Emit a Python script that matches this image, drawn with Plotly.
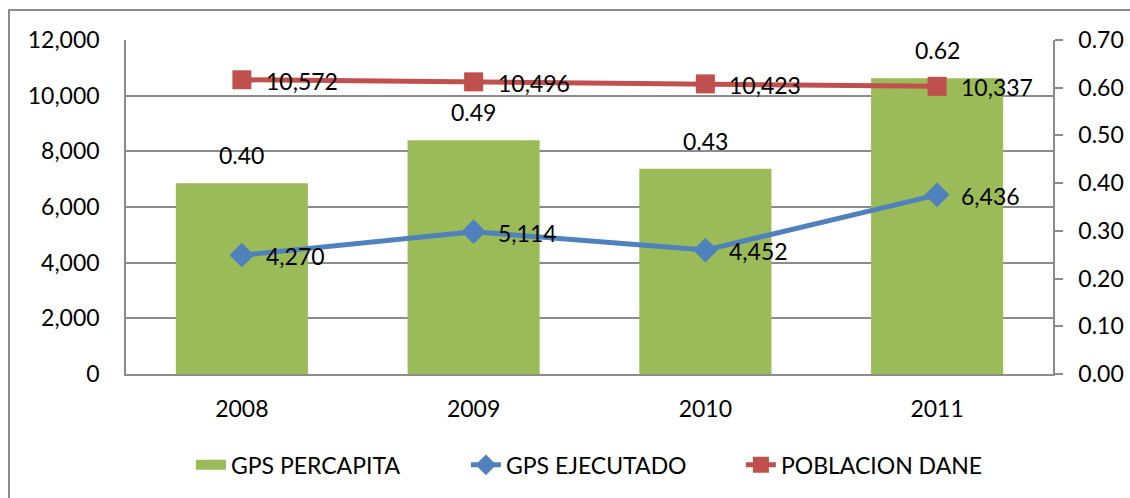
import plotly.graph_objects as go

years = ["2008", "2009", "2010", "2011"]
gps_percapita = [0.40, 0.49, 0.43, 0.62]
gps_ejecutado = [4270, 5114, 4452, 6436]
poblacion_dane = [10572, 10496, 10423, 10337]

GREEN = "#9BBB59"
BLUE = "#4F81BD"
RED = "#C0504D"
GRAY = "#8C8C8C"
FONT = "Lato"

xpos = list(range(len(years)))

fig = go.Figure()

# bars on the right-hand axis (drawn first so lines sit on top)
fig.add_trace(go.Bar(
    x=xpos, y=gps_percapita, name="GPS PERCAPITA",
    marker=dict(color=GREEN, line=dict(width=0)),
    yaxis="y", hoverinfo="skip", showlegend=False,
))
# legend swatch for the bars: a wide block like the bar fill
fig.add_trace(go.Scatter(
    x=[None], y=[None], name="GPS PERCAPITA", mode="lines",
    line=dict(color=GREEN, width=15), yaxis="y",
))

fig.add_trace(go.Scatter(
    x=xpos, y=gps_ejecutado, name="GPS EJECUTADO",
    mode="lines+markers",
    line=dict(color=BLUE, width=5),
    marker=dict(symbol="diamond", size=19, color=BLUE),
    yaxis="y2",
))

fig.add_trace(go.Scatter(
    x=xpos, y=poblacion_dane, name="POBLACION DANE",
    mode="lines+markers",
    line=dict(color=RED, width=5),
    marker=dict(symbol="square", size=19, color=RED),
    yaxis="y2",
))

annotations = []
# value labels above the bars
for i, v in zip(xpos, gps_percapita):
    annotations.append(dict(
        x=i, y=v, xref="x", yref="y", text=f"{v:.2f}", showarrow=False,
        yshift=28, font=dict(family=FONT, size=23, color="#000000")))
# value labels to the right of the line points
for series in (gps_ejecutado, poblacion_dane):
    for i, v in zip(xpos, series):
        annotations.append(dict(
            x=i, y=v, xref="x", yref="y2", text=f"{v:,}", showarrow=False,
            xanchor="left", xshift=22, yshift=-1,
            font=dict(family=FONT, size=23, color="#000000")))

fig.update_layout(
    width=1130, height=498,
    margin=dict(l=126, r=77, t=40, b=124, autoexpand=False),
    paper_bgcolor="white", plot_bgcolor="white",
    font=dict(family=FONT, size=23, color="#000000"),
    bargap=0.43,
    showlegend=True,
    legend=dict(
        orientation="h", x=0.515, xanchor="center", y=-0.272, yanchor="middle",
        font=dict(family=FONT, size=23, color="#000000"),
        entrywidth=230, entrywidthmode="pixels", traceorder="normal",
    ),
    xaxis=dict(
        range=[-0.5, len(years) - 0.5], automargin=False,
        tickmode="array", tickvals=xpos, ticktext=years,
        showgrid=False, showline=True, linecolor=GRAY, zeroline=False,
        linewidth=1.5, ticks="", ticklabelstandoff=14,
        tickfont=dict(family=FONT, size=23),
    ),
    yaxis=dict(
        side="right", range=[0, 0.70], dtick=0.10, tickformat=".2f",
        automargin=False,
        showgrid=False, showline=True, linecolor=GRAY, linewidth=1.5,
        ticks="outside", ticklen=8, tickcolor=GRAY, tickwidth=1.5,
        ticklabelstandoff=11, zeroline=False,
        tickfont=dict(family=FONT, size=23),
    ),
    yaxis2=dict(
        overlaying="y", side="left", range=[0, 12000], dtick=2000,
        automargin=False,
        tickformat=",d", showgrid=True, gridcolor=GRAY, gridwidth=1.5,
        showline=True, linecolor=GRAY, linewidth=1.5, ticks="",
        ticklabelstandoff=20, zeroline=False,
        tickfont=dict(family=FONT, size=23),
    ),
    annotations=annotations,
    shapes=[
        dict(type="rect", xref="paper", yref="paper",
             x0=(9 - 126) / 927, x1=(1140 - 126) / 927,
             y0=(374 - 510) / 334, y1=(374 - 10) / 334,
             line=dict(color=GRAY, width=2), fillcolor="rgba(0,0,0,0)",
             layer="below"),
    ],
)

fig.write_html("out.html")
